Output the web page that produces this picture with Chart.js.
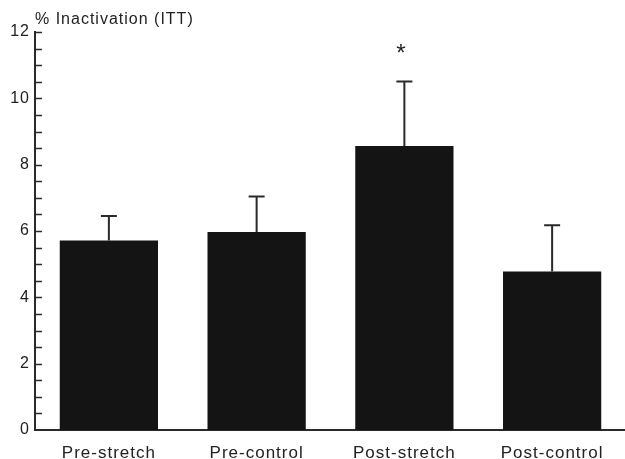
<!DOCTYPE html>
<html>
<head>
<meta charset="utf-8">
<script src="https://cdn.jsdelivr.net/npm/chart.js@4/dist/chart.umd.min.js"></script>
<style>
  html, body { margin: 0; padding: 0; background: #fff; overflow: hidden; }
  #wrap { width: 632px; height: 459px; }
</style>
</head>
<body>
<div id="wrap"><canvas id="c" width="632" height="459"></canvas></div>
<script>
// Inactivation (ITT), mean with upper SEM whisker
const categories = ['Pre-stretch', 'Pre-control', 'Post-stretch', 'Post-control'];
const meanValues = [5.71, 5.97, 8.56, 4.78];
const errorUpper = [0.74, 1.07, 1.95, 1.39];
const significant = [false, false, true, false];
const yTickValues = [0, 2, 4, 6, 8, 10, 12];

const INK = '#222';
const FONT = '"Liberation Sans", Arial, sans-serif';

// slightly open letter spacing for all text on the canvas
const spacing = {
  id: 'spacing',
  beforeLayout(chart) { chart.ctx.letterSpacing = '1px'; },
  beforeDraw(chart) { chart.ctx.letterSpacing = '1px'; }
};

const errorBars = {
  id: 'errorBars',
  afterDatasetsDraw(chart) {
    const ctx = chart.ctx;
    const y = chart.scales.y;
    const meta = chart.getDatasetMeta(0);
    ctx.save();
    ctx.strokeStyle = '#2a2a2a';
    ctx.lineWidth = 2;
    meta.data.forEach((bar, i) => {
      const x = bar.x;
      const yTop = y.getPixelForValue(meanValues[i] + errorUpper[i]);
      const yBase = y.getPixelForValue(meanValues[i]);
      ctx.beginPath();
      ctx.moveTo(x, yBase);
      ctx.lineTo(x, yTop);
      ctx.moveTo(x - 8, yTop);
      ctx.lineTo(x + 8, yTop);
      ctx.stroke();
      if (significant[i]) {
        ctx.fillStyle = INK;
        ctx.font = '24px ' + FONT;
        ctx.textAlign = 'center';
        ctx.textBaseline = 'middle';
        ctx.fillText('*', x - 3, yTop - 27);
      }
    });
    ctx.restore();
  }
};

const axisDecor = {
  id: 'axisDecor',
  afterDraw(chart) {
    const ctx = chart.ctx;
    const y = chart.scales.y;
    const left = chart.chartArea.left;
    ctx.save();
    ctx.strokeStyle = '#2a2a2a';
    ctx.lineWidth = 1.5;
    // inward tick marks every 0.5 unit
    for (let v = 0.5; v <= 12; v += 0.5) {
      const py = Math.round(y.getPixelForValue(v)) + 0.5;
      ctx.beginPath();
      ctx.moveTo(left, py);
      ctx.lineTo(left + 7, py);
      ctx.stroke();
    }
    ctx.fillStyle = INK;
    ctx.letterSpacing = '1px';
    ctx.font = '16px ' + FONT;
    ctx.textAlign = 'left';
    ctx.textBaseline = 'middle';
    ctx.fillText('% Inactivation (ITT)', left, 20);
    ctx.restore();
  }
};

new Chart(document.getElementById('c'), {
  type: 'bar',
  data: {
    labels: categories,
    datasets: [{
      data: meanValues,
      backgroundColor: '#141414',
      borderWidth: 0,
      categoryPercentage: 1,
      barPercentage: 0.665
    }]
  },
  options: {
    responsive: false,
    animation: false,
    layout: { padding: { top: 32, right: 6, left: 0, bottom: 0 } },
    plugins: {
      legend: { display: false },
      tooltip: { enabled: false }
    },
    scales: {
      x: {
        grid: { display: false, drawTicks: false },
        border: { display: true, color: '#2a2a2a', width: 2 },
        ticks: {
          color: INK,
          font: { family: FONT, size: 17 },
          padding: 13,
          maxRotation: 0
        },
        afterFit(scale) { scale.height = 29; }
      },
      y: {
        min: 0,
        max: 12,
        afterBuildTicks(scale) { scale.ticks = yTickValues.map(v => ({ value: v })); },
        grid: { display: false, drawTicks: false },
        border: { display: true, color: '#2a2a2a', width: 2 },
        ticks: {
          color: INK,
          font: { family: FONT, size: 16 },
          padding: 5
        },
        afterFit(scale) { scale.width = 35; }
      }
    }
  },
  plugins: [spacing, errorBars, axisDecor]
});
</script>
</body>
</html>
